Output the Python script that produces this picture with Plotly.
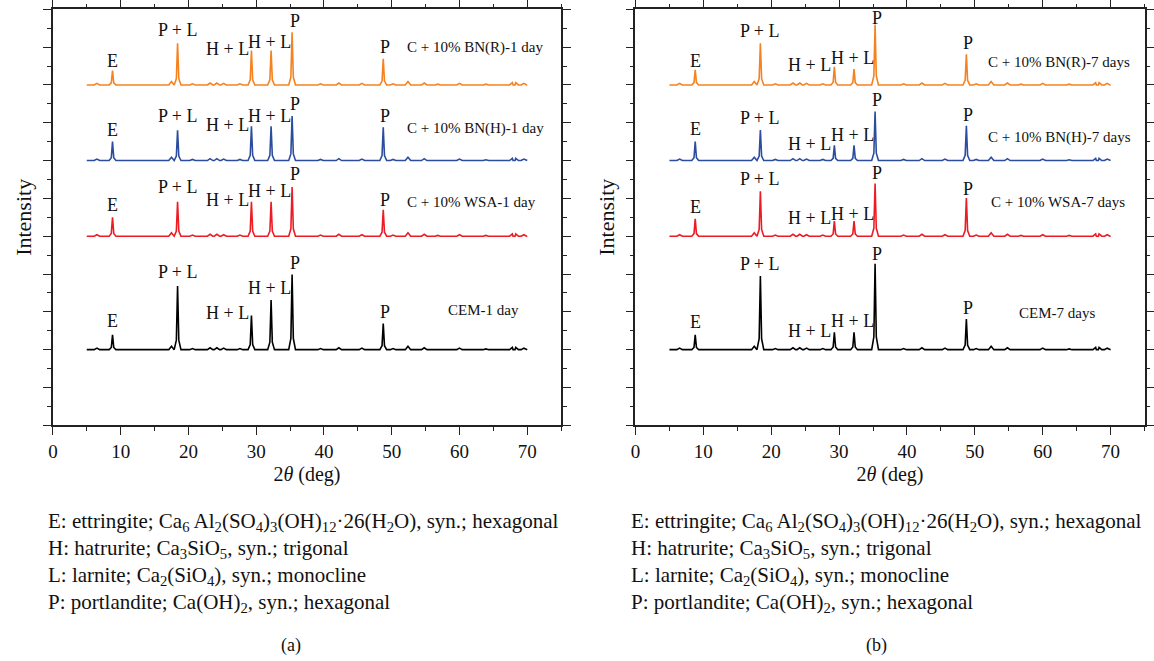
import plotly.graph_objects as go

# ---------------- data ----------------
peak_angles = [8.8, 18.4, 29.3, 32.2, 35.3, 48.75]   # 2theta of main reflections
peak_names = ["E", "P + L", "H + L", "H + L", "P", "P"]

# background bumps common to all patterns (2theta, relative height)
bump_angles = [6.5, 17.5, 20.6, 23.2, 24.2, 25.2, 27.6, 39.5, 42.2, 45.6,
               50.2, 52.4, 54.8, 56.8, 60.0, 63.9, 67.8, 68.3, 69.5]
bump_heights = [0.4, 0.9, 0.3, 0.5, 0.5, 0.4, 0.3, 0.3, 0.5, 0.4,
                0.3, 0.9, 0.5, 0.2, 0.4, 0.2, 0.6, 0.6, 0.4]

# peak heights above the baseline (offset units, 10 = one major y tick)
cem_1d = [3.9, 16.8, 9.0, 13.1, 19.9, 6.9]
wsa_1d = [5.0, 9.1, 9.1, 9.1, 13.0, 7.0]
bnh_1d = [5.0, 8.0, 9.1, 9.1, 11.8, 8.8]
bnr_1d = [3.8, 11.0, 9.1, 9.1, 13.9, 6.9]

cem_7d = [3.9, 19.5, 4.6, 4.6, 22.7, 8.1]
wsa_7d = [4.6, 11.9, 4.0, 4.0, 13.9, 10.1]
bnh_7d = [5.0, 8.1, 4.0, 4.0, 13.0, 9.2]
bnr_7d = [4.0, 11.0, 4.8, 4.2, 16.0, 8.1]

series_names_1d = ["CEM-1 day", "C + 10% WSA-1 day", "C + 10% BN(H)-1 day", "C + 10% BN(R)-1 day"]
series_names_7d = ["CEM-7 days", "C + 10% WSA-7 days", "C + 10% BN(H)-7 days", "C + 10% BN(R)-7 days"]

x_ticks = [0, 10, 20, 30, 40, 50, 60, 70]

# ---------------- styles / layout positions ----------------
colors = ["#000000", "#ED1C24", "#2B4C9F", "#F5821F"]
offsets = [20, 50, 70, 90]
SERIF = "Liberation Serif"

# label placement (relative height above baseline) per series
lab_x_1d = [8.8, 18.4, 25.8, 32.0, 35.8, 49.0]
lab_x_7d = [8.8, 18.4, 25.6, 31.9, 35.6, 49.0]
lab_y_1d = [
    [7.5, 20.5, 9.6, 16.3, 22.9, 9.9],
    [8.2, 13.0, 9.7, 12.0, 16.5, 9.5],
    [8.2, 11.7, 9.5, 11.7, 14.9, 11.8],
    [6.2, 14.5, 9.5, 11.3, 17.0, 10.0],
]
lab_y_7d = [
    [7.2, 22.7, 4.9, 7.6, 25.4, 10.9],
    [7.6, 15.0, 4.7, 6.0, 16.7, 12.5],
    [8.4, 11.3, 4.4, 6.8, 16.0, 12.1],
    [6.3, 14.3, 5.3, 7.2, 17.6, 11.0],
]
name_pos_1d = [(63.5, 10.4), (61.7, 9.0), (62.3, 8.5), (62.3, 9.8)]
name_pos_7d = [(62.1, 9.8), (62.3, 9.0), (62.4, 6.1), (62.4, 5.9)]

W, H = 1154, 661
def px_x(p):
    return p / W
def px_y(p):
    return 1 - p / H


def build_pattern(heights):
    pts = [(5.0, 0.0), (70.0, 0.0)]
    for c, h in zip(peak_angles, heights):
        for dx, f in zip([-0.5, -0.18, 0.0, 0.18, 0.5], [0.0, 0.15, 1.0, 0.15, 0.0]):
            pts.append((c + dx, f * h))
    for c, h in zip(bump_angles, bump_heights):
        for dx, f in zip([-0.4, 0.0, 0.4], [0.0, 1.0, 0.0]):
            pts.append((c + dx, f * h))
    pts.sort(key=lambda p: p[0])
    return [p[0] for p in pts], [p[1] for p in pts]


fig = go.Figure()
panels = [
    ("x", "y", [cem_1d, wsa_1d, bnh_1d, bnr_1d], series_names_1d, lab_x_1d, lab_y_1d, name_pos_1d),
    ("x2", "y2", [cem_7d, wsa_7d, bnh_7d, bnr_7d], series_names_7d, lab_x_7d, lab_y_7d, name_pos_7d),
]
annotations = []
for xa, ya, data, names, labx, laby, npos in panels:
    for i, heights in enumerate(data):
        xs, ys = build_pattern(heights)
        fig.add_trace(go.Scatter(
            x=xs, y=[v + offsets[i] for v in ys], mode="lines",
            line=dict(color=colors[i], width=1.6), xaxis=xa, yaxis=ya,
            showlegend=False, hoverinfo="skip"))
        for t, lx, ly in zip(peak_names, labx, laby[i]):
            annotations.append(dict(
                x=lx, y=ly + offsets[i], xref=xa, yref=ya, text=t, showarrow=False,
                xanchor="center", yanchor="middle",
                font=dict(family=SERIF, size=18, color="#111")))
        annotations.append(dict(
            x=npos[i][0], y=npos[i][1] + offsets[i], xref=xa, yref=ya, text=names[i],
            showarrow=False, xanchor="center", yanchor="middle",
            font=dict(family=SERIF, size=15, color="#111")))

# captions
legend_lines = [
    "E: ettringite; Ca<sub>6</sub> Al<sub>2</sub>(SO<sub>4</sub>)<sub>3</sub>(OH)<sub>12</sub>·26(H<sub>2</sub>O), syn.; hexagonal",
    "H: hatrurite; Ca<sub>3</sub>SiO<sub>5</sub>, syn.; trigonal",
    "L: larnite; Ca<sub>2</sub>(SiO<sub>4</sub>), syn.; monocline",
    "P: portlandite; Ca(OH)<sub>2</sub>, syn.; hexagonal",
]
for left_px, tag_px, tag in [(41, 289, "(a)"), (629, 879, "(b)")]:
    for k, line in enumerate(legend_lines):
        annotations.append(dict(x=px_x(left_px), y=px_y(522 + 27 * k), xref="paper", yref="paper",
                                text=line, showarrow=False, xanchor="left", yanchor="middle",
                                font=dict(family=SERIF, size=21, color="#111")))
    annotations.append(dict(x=px_x(tag_px), y=px_y(645), xref="paper", yref="paper", text=tag,
                            showarrow=False, xanchor="center", yanchor="middle",
                            font=dict(family=SERIF, size=18, color="#111")))
for xp in (18, 606):
    annotations.append(dict(x=px_x(xp), y=px_y(217), xref="paper", yref="paper", text="Intensity",
                            showarrow=False, textangle=-90, xanchor="center", yanchor="middle",
                            font=dict(family=SERIF, size=22, color="#111")))

xaxis_common = dict(
    range=[0, 75], tickvals=x_ticks, ticks="outside", ticklen=8, tickwidth=1.3,
    tickcolor="#222", showline=True, linecolor="#222", linewidth=1.5, mirror="allticks",
    showgrid=False, zeroline=False, tickfont=dict(family=SERIF, size=19, color="#111"),
    minor=dict(tickvals=[5, 15, 25, 35, 45, 55, 65, 75], ticks="outside", ticklen=4,
               tickcolor="#222", showgrid=False),
    title=dict(text="2<i>θ</i> (deg)", font=dict(family=SERIF, size=20, color="#111"), standoff=6),
)
yaxis_common = dict(
    range=[0, 110], dtick=10, ticks="outside", ticklen=8, tickwidth=1.3, tickcolor="#222",
    showticklabels=False, showline=True, linecolor="#222", linewidth=1.5, mirror="allticks",
    showgrid=False, zeroline=False,
    minor=dict(dtick=5, ticks="outside", ticklen=4, tickcolor="#222", showgrid=False),
)
ydom = [px_y(425.3), px_y(9.3)]
fig.update_layout(
    width=W, height=H, autosize=False,
    margin=dict(l=0, r=0, t=0, b=0),
    paper_bgcolor="white", plot_bgcolor="white",
    xaxis=dict(xaxis_common, domain=[px_x(48.3), px_x(561)], anchor="y"),
    yaxis=dict(yaxis_common, domain=ydom, anchor="x"),
    xaxis2=dict(xaxis_common, domain=[px_x(636), px_x(1149.5)], anchor="y2"),
    yaxis2=dict(yaxis_common, domain=ydom, anchor="x2"),
    annotations=annotations,
)

fig.write_html("out.html", config={"displayModeBar": False},
               post_script="document.body.style.margin='0';")
